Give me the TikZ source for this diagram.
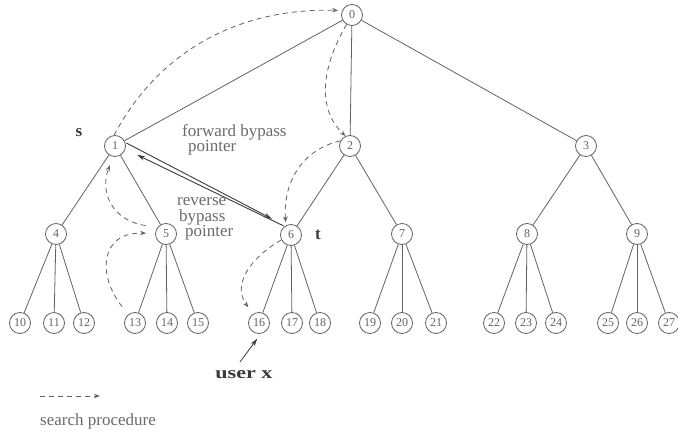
\documentclass[tikz,border=0pt]{standalone}
\usepackage{fontspec}
\setmainfont{Liberation Serif}
\usetikzlibrary{arrows.meta}
\definecolor{ink}{HTML}{626262}
\definecolor{txt}{HTML}{6A6A6A}
\definecolor{dark}{HTML}{3A3A3A}
\begin{document}
\begin{tikzpicture}[x=1pt,y=-1pt,
  vert/.style={circle,draw=ink,line width=0.8pt,minimum size=21pt,inner sep=0pt,
    font=\fontsize{12}{12}\selectfont,text=ink},
  edge/.style={draw=ink,line width=0.8pt},
  search/.style={draw=ink,line width=0.8pt,dash pattern=on 5pt off 4pt,
    -{Stealth[length=6pt,width=4.5pt,open]}},
  bypass/.style={draw=dark,line width=0.9pt,-{Stealth[length=8pt,width=4.5pt]}},
  lbl/.style={text=txt,font=\fontsize{17}{15.5}\selectfont,inner sep=0pt,align=left},
  bold/.style={text=dark,font=\fontsize{17}{17}\selectfont\bfseries,inner sep=0pt}]
\useasboundingbox (0,0) rectangle (678,431);

% tree vertices
\node[vert] (n0) at (352,15) {0};
\node[vert] (n1) at (115,146) {1};
\node[vert] (n2) at (350,146) {2};
\node[vert] (n3) at (586,146) {3};
\node[vert] (n4) at (56,234) {4};
\node[vert] (n5) at (166,234) {5};
\node[vert] (n6) at (291,235) {6};
\node[vert] (n7) at (402,234) {7};
\node[vert] (n8) at (527,234) {8};
\node[vert] (n9) at (637,234) {9};
\foreach \k/\x in {10/20,11/54,12/84,13/135,14/167,15/198,16/259,17/292,18/320,
                   19/370,20/402,21/436,22/494,23/526,24/556,25/608,26/637,27/669}
  \node[vert] (n\k) at (\x,323) {\k};

% tree edges
\foreach \p/\c in {0/1,0/2,0/3,1/4,1/5,2/6,2/7,3/8,3/9,
                   4/10,4/11,4/12,5/13,5/14,5/15,6/16,6/17,6/18,
                   7/19,7/20,7/21,8/22,8/23,8/24,9/25,9/26,9/27}
  \draw[edge] (n\p) -- (n\c);

% bypass pointers between s and t
\draw[bypass,shorten <=1pt,shorten >=15pt] (n1.19) -- (n6.122);
\draw[bypass,shorten <=1pt,shorten >=13pt] (n6.127) -- (n1.343);

% search procedure
\draw[search,shorten >=4pt] (n1.95) .. controls (155,58) and (230,8) .. (n0.155);
\draw[search] (n0.240) .. controls (320,70) and (318,110) .. (n2.114);
\draw[search,shorten >=3pt] (n2.152) .. controls (300,150) and (283,185) .. (n6.118);
\draw[search,shorten >=8pt] (n6.207) .. controls (250,258) and (232,285) .. (n16.123);
\draw[search,shorten <=10pt,shorten >=9pt] (n13.128) .. controls (97,275) and (100,232) .. (n5.177);
\draw[search,shorten <=12pt,shorten >=9pt] (n5.143) .. controls (110,220) and (100,190) .. (n1.261);

% labels
\node[bold] (ls) at (79,133) {s};
\node[bold] (lt) at (318,235) {t};
\node[lbl,anchor=west] (lfw) at (182,140) {forward bypass\\\hspace{6pt}pointer};
\node[lbl,anchor=west] (lrv) at (177,219) {reverse\\\hspace{2pt}bypass\\\hspace{8pt}pointer};

% user x
\node[bold] (ux) at (244,375) {\scalebox{1.3}[1]{user x}};
\coordinate (uxs) at (240,362);
\draw[bypass,line width=0.8pt,shorten >=6pt] (uxs) -- (n16.280);

% legend
\coordinate (lg0) at (40,396);
\coordinate (lg1) at (100,396);
\draw[search] (lg0) -- (lg1);
\node[lbl,anchor=west] (lgt) at (40,421) {search procedure};
\end{tikzpicture}
\end{document}
